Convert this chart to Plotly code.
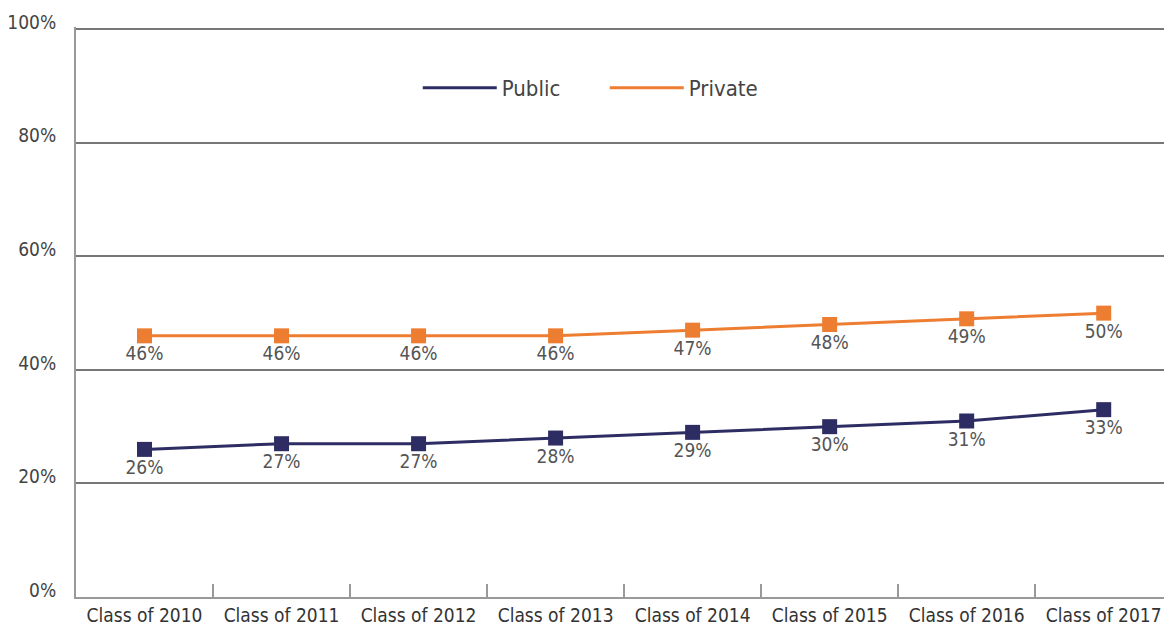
import plotly.graph_objects as go

categories = ["Class of 2010", "Class of 2011", "Class of 2012", "Class of 2013",
              "Class of 2014", "Class of 2015", "Class of 2016", "Class of 2017"]
public = [26, 27, 27, 28, 29, 30, 31, 33]
private = [46, 46, 46, 46, 47, 48, 49, 50]
y_ticks = [0, 20, 40, 60, 80, 100]
y_ticktext = ["0%", "20%", "40%", "60%", "80%", "100%"]

NAVY = "#2E2D63"
ORANGE = "#ED7D31"
FONT = "DejaVu Sans Condensed, Liberation Sans Narrow, sans-serif"

fig = go.Figure()
for name, vals, col in [("Public", public, NAVY), ("Private", private, ORANGE)]:
    fig.add_trace(go.Scatter(
        x=categories, y=vals, mode="lines+markers+text",
        line=dict(color=col, width=3),
        marker=dict(symbol="square", size=15, color=col),
        text=[f"{v}%" for v in vals], textposition="bottom center",
        textfont=dict(size=19, color="#555555", family=FONT),
        showlegend=False, cliponaxis=False,
    ))
    fig.add_trace(go.Scatter(
        x=[None], y=[None], mode="lines", name=name,
        line=dict(color=col, width=3),
    ))

fig.update_layout(
    width=1164, height=631,
    margin=dict(l=76, r=0, t=27, b=34),
    paper_bgcolor="white", plot_bgcolor="white",
    font=dict(family=FONT, color="#444444"),
    legend=dict(orientation="h", x=0.486, y=0.893, xanchor="center", yanchor="middle",
                font=dict(size=22, color="#444444", family=FONT),
                itemwidth=74, entrywidth=98, bgcolor="rgba(0,0,0,0)"),
    xaxis=dict(
        type="category", range=[-0.5, 7.44],
        showgrid=False, showline=True, linecolor="#999999", linewidth=2,
        ticks="inside", tickson="boundaries", ticklen=13, tickcolor="#999999", tickwidth=1.5,
        tickfont=dict(size=19, color="#333333", family=FONT),
    ),
    yaxis=dict(
        range=[0, 100.4], tickvals=y_ticks, ticktext=y_ticktext,
        showgrid=True, gridcolor="#777777", gridwidth=1.5,
        showline=True, linecolor="#999999", linewidth=2,
        zeroline=False, ticks="", ticklabelstandoff=14, ticklabelshift=-7,
        tickfont=dict(size=19, color="#444444", family=FONT),
    ),
)

fig.write_html("out.html", config={"displayModeBar": False},
               post_script="document.body.style.margin='0';document.body.style.padding='0';")
